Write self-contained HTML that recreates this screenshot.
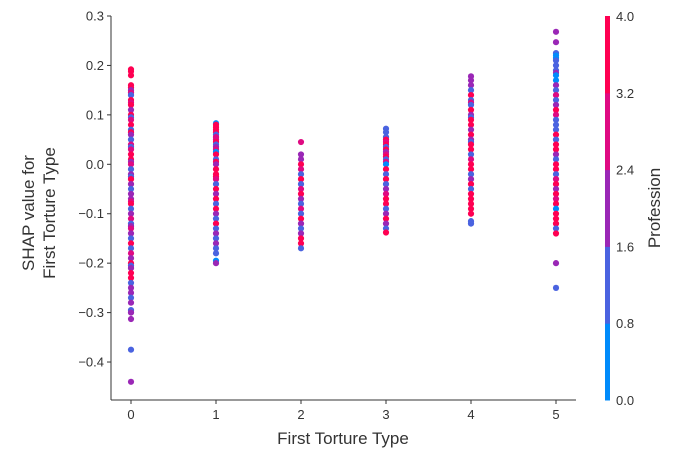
<!DOCTYPE html>
<html><head><meta charset="utf-8"><style>
body{margin:0;background:#fff}
svg text{font-family:"Liberation Sans","DejaVu Sans",sans-serif;fill:#333}
</style></head><body>
<svg id="chart" width="681" height="457" viewBox="0 0 681 457" xmlns="http://www.w3.org/2000/svg">
<g id="dots"></g>
<g id="axes"></g>
<text x="343" y="444" font-size="17" text-anchor="middle">First Torture Type</text>
<text transform="translate(34,213) rotate(-90)" font-size="17" text-anchor="middle"><tspan x="0" dy="0">SHAP value for</tspan><tspan x="0" dy="21">First Torture Type</tspan></text>
<g id="cbar"></g>
<text transform="translate(660,208) rotate(-90)" font-size="17" text-anchor="middle">Profession</text>
</svg>
<script>
const categories=[0,1,2,3,4,5];
const col0=[0.192,0.188,0.18,0.16,0.155,0.15,0.145,0.14,0.13,0.125,0.12,0.11,0.10,0.095,0.09,0.08,0.07,0.065,0.06,0.05,0.04,0.035,0.03,0.02,0.01,0.005,0,-0.01,-0.02,-0.025,-0.03,-0.04,-0.05,-0.06,-0.07,-0.075,-0.08,-0.09,-0.10,-0.11,-0.12,-0.125,-0.13,-0.14,-0.15,-0.16,-0.17,-0.18,-0.19,-0.20,-0.205,-0.21,-0.22,-0.23,-0.24,-0.25,-0.26,-0.27,-0.28,-0.295,-0.30,-0.313,-0.375,-0.44];
const prof0="444442314342413414213134423121421223412312321413241244122121221212";
const col1=[0.083,0.08,0.075,0.07,0.065,0.06,0.055,0.05,0.045,0.04,0.035,0.03,0.025,0.02,0.01,0.005,0,-0.01,-0.02,-0.025,-0.03,-0.04,-0.05,-0.06,-0.07,-0.08,-0.09,-0.10,-0.11,-0.12,-0.13,-0.14,-0.15,-0.16,-0.17,-0.18,-0.195,-0.20];
const prof1="0444413341230414244431424142141212110222";
const col2=[0.045,0.02,0.01,0,-0.01,-0.02,-0.03,-0.04,-0.05,-0.06,-0.07,-0.08,-0.09,-0.10,-0.11,-0.12,-0.13,-0.14,-0.15,-0.16,-0.17];
const prof2="3224314134213142124411";
const col3=[0.072,0.065,0.055,0.05,0.045,0.04,0.035,0.03,0.025,0.02,0.015,0.01,0.005,0,-0.01,-0.02,-0.03,-0.04,-0.05,-0.06,-0.07,-0.08,-0.09,-0.10,-0.11,-0.12,-0.13,-0.138];
const prof3="1114341423413041412344124214214";
const col4=[0.178,0.17,0.16,0.15,0.14,0.13,0.125,0.12,0.11,0.10,0.095,0.09,0.08,0.07,0.06,0.05,0.045,0.04,0.03,0.02,0.01,0,-0.01,-0.02,-0.03,-0.04,-0.05,-0.06,-0.07,-0.08,-0.09,-0.10,-0.115,-0.12];
const prof4="2221413142144242144134412414444411";
const col5=[0.268,0.247,0.225,0.22,0.215,0.21,0.20,0.19,0.185,0.18,0.17,0.16,0.15,0.14,0.13,0.12,0.11,0.10,0.09,0.08,0.07,0.06,0.05,0.04,0.03,0.02,0.01,0,-0.01,-0.02,-0.03,-0.04,-0.05,-0.06,-0.07,-0.08,-0.09,-0.10,-0.11,-0.12,-0.13,-0.14,-0.20,-0.25];
const prof5="22100111200213124311141442144134243404441421";
const yTicks=[0.3,0.2,0.1,0.0,-0.1,-0.2,-0.3,-0.4];
const yTickLabels=["0.3","0.2","0.1","0.0","\u22120.1","\u22120.2","\u22120.3","\u22120.4"];
const cbarTicks=["0.0","0.8","1.6","2.4","3.2","4.0"];
const palette=["#008bfb","#4a63e0","#9a27b6","#df0a82","#ff0052"];

const NS="http://www.w3.org/2000/svg";
const X0=111,X1=576,Y0=400,Y1=16;
const xs=v=>131+(v-categories[0])*85;
const ys=v=>164.3-v*494.3;
function mk(t,a,p){const e=document.createElementNS(NS,t);for(const k in a)e.setAttribute(k,a[k]);p.appendChild(e);return e;}
const cols=[col0,col1,col2,col3,col4,col5],profs=[prof0,prof1,prof2,prof3,prof4,prof5];
const dots=document.getElementById('dots');
cols.forEach((c,i)=>{c.forEach((v,j)=>{
  const code=+(profs[i][j%profs[i].length]);
  const d=mk('circle',{cx:xs(categories[i]),cy:ys(v),r:3.1,fill:palette[code]},dots);
  
  
});});
const ax=document.getElementById('axes');
let l=mk('line',{x1:X0,y1:Y1,x2:X0,y2:Y0,stroke:'#333','stroke-width':1},ax);

l=mk('line',{x1:X0,y1:Y0,x2:X1,y2:Y0,stroke:'#333','stroke-width':1},ax);

yTicks.forEach((v,i)=>{
  const y=ys(v);
  mk('line',{x1:X0-4,y1:y,x2:X0,y2:y,stroke:'#333'},ax);
  const t=mk('text',{x:X0-7,y:y+4.5,'font-size':13,'text-anchor':'end'},ax);
  t.textContent=yTickLabels[i];
  
});
categories.forEach(c=>{
  const x=xs(c);
  mk('line',{x1:x,y1:Y0,x2:x,y2:Y0+4,stroke:'#333'},ax);
  const t=mk('text',{x:x,y:Y0+19,'font-size':13,'text-anchor':'middle'},ax);
  t.textContent=String(c);
  
});
const cb=document.getElementById('cbar');
const CB0=400,CB1=16,cbs=v=>CB0-(v/4)*(CB0-CB1);
palette.forEach((col,i)=>{
  const r=mk('rect',{x:605,y:cbs((i+1)*0.8),width:5,height:cbs(i*0.8)-cbs((i+1)*0.8)+0.5,fill:col},cb);
  
});
cbarTicks.forEach(s=>{
  const y=cbs(+s);
  const t=mk('text',{x:616,y:y+5,'font-size':13},cb);
  t.textContent=s;
  
});
</script>
</body></html>
